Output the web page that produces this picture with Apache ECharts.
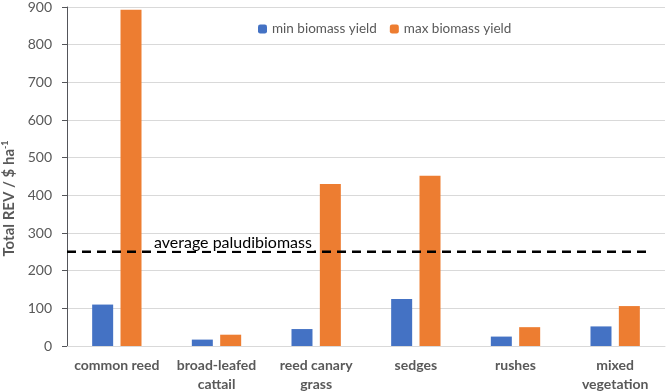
<!DOCTYPE html>
<html>
<head>
<meta charset="utf-8">
<script src="https://cdn.jsdelivr.net/npm/echarts@6/dist/echarts.min.js"></script>
<style>
html, body { margin: 0; padding: 0; background: #fff; }
#chart { width: 669px; height: 392px; }
</style>
</head>
<body>
<div id="chart"></div>
<script>
// categories and values
const categories = ['common reed', 'broad-leafed\ncattail', 'reed canary\ngrass', 'sedges', 'rushes', 'mixed\nvegetation'];
const minYield = [110, 17, 45, 125, 25, 52];
const maxYield = [893, 30, 430, 452, 50, 106];
const avgLine = [[0, 250], [0.975, 250]];
const yTicks = [0, 900, 100];

const textColor = '#595959';
const font = 'Lato, "Open Sans", sans-serif';

const chart = echarts.init(document.getElementById('chart'));

const option = {
	animation: false,
	textStyle: { fontFamily: font },
	grid: { left: 67, right: 4, top: 7, bottom: 46, outerBoundsMode: 'none', containLabel: false },
	legend: {
		data: ['min biomass yield', 'max biomass yield'],
		top: 17,
		left: 253,
		itemWidth: 9,
		itemHeight: 9,
		itemGap: 13,
		textStyle: { color: textColor, fontSize: 13.5, fontFamily: font }
	},
	xAxis: [{
		type: 'category',
		data: categories,
		axisTick: { show: false },
		axisLine: { lineStyle: { color: '#d9d9d9' } },
		axisLabel: {
			color: textColor, fontSize: 14, fontWeight: 'bold',
			lineHeight: 19, margin: 10, interval: 0, fontFamily: font
		}
	}, {
		type: 'value', min: 0, max: 1, show: false
	}],
	yAxis: {
		type: 'value',
		min: yTicks[0], max: yTicks[1], interval: yTicks[2],
		name: 'Total REV / $ ha{sup|-1}',
		nameLocation: 'middle',
		nameGap: 50,
		nameTextStyle: {
			color: textColor, fontSize: 15, fontWeight: 'bold', fontFamily: font,
			padding: [0, 44, 0, 0],
			rich: { sup: { fontSize: 9, fontWeight: 'bold', color: textColor, padding: [0, 0, 7, 0] } }
		},
		axisLabel: { color: textColor, fontSize: 14, margin: 15, fontFamily: font },
		splitLine: { lineStyle: { color: '#d9d9d9' } }
	},
	series: [{
		name: 'min biomass yield',
		type: 'bar',
		data: minYield,
		barWidth: 21,
		barGap: '35%',
		itemStyle: { color: '#4472C4' }
	}, {
		name: 'max biomass yield',
		type: 'bar',
		data: maxYield,
		barWidth: 21,
		itemStyle: { color: '#ED7D31' }
	}, {
		name: 'average',
		type: 'line',
		xAxisIndex: 1,
		z: 3,
		data: [{
			value: avgLine[0],
			label: {
				show: true, formatter: 'average paludibiomass', position: 'right',
				offset: [80, -9], color: '#000', fontSize: 16, fontFamily: font,
				backgroundColor: '#fff', padding: [0, 2]
			}
		}, { value: avgLine[1] }],
		symbol: 'circle',
		symbolSize: 0,
		showSymbol: true,
		silent: true,
		lineStyle: { color: '#000', width: 2.5, type: [9, 6] }
	}]
};

chart.setOption(option);
</script>
</body>
</html>
